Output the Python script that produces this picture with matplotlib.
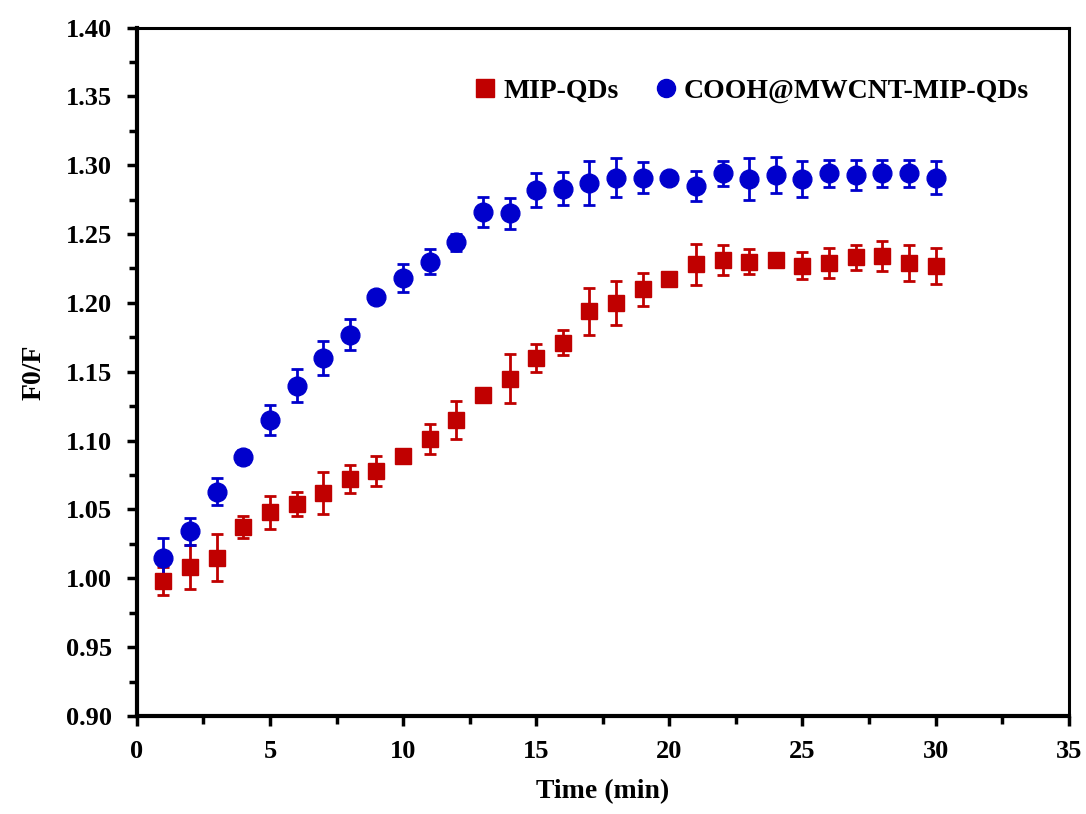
import numpy as np
import matplotlib
matplotlib.use('Agg')
import matplotlib.pyplot as plt
from matplotlib.ticker import MultipleLocator, FormatStrFormatter
from matplotlib.lines import Line2D

# time points (min)
time_min = list(range(1, 31))

# MIP-QDs
mip_f0f = [0.998, 1.008, 1.015, 1.037, 1.048, 1.054, 1.062, 1.072, 1.078, 1.089,
           1.101, 1.115, 1.133, 1.145, 1.160, 1.171, 1.194, 1.200, 1.210, 1.217,
           1.228, 1.231, 1.230, 1.231, 1.227, 1.229, 1.233, 1.234, 1.229, 1.227]
mip_err = [0.010, 0.016, 0.017, 0.008, 0.012, 0.009, 0.015, 0.010, 0.011, 0.003,
           0.011, 0.014, 0.004, 0.018, 0.010, 0.009, 0.017, 0.016, 0.012, 0.003,
           0.015, 0.011, 0.009, 0.003, 0.010, 0.011, 0.009, 0.011, 0.013, 0.013]

# COOH@MWCNT-MIP-QDs
mwcnt_f0f = [1.015, 1.034, 1.063, 1.088, 1.115, 1.140, 1.160, 1.177, 1.204, 1.218,
             1.230, 1.244, 1.266, 1.265, 1.282, 1.283, 1.287, 1.291, 1.291, 1.291,
             1.285, 1.294, 1.290, 1.293, 1.290, 1.294, 1.293, 1.294, 1.294, 1.291]
mwcnt_err = [0.014, 0.010, 0.010, 0.005, 0.011, 0.012, 0.012, 0.011, 0.003, 0.010,
             0.009, 0.006, 0.011, 0.011, 0.012, 0.012, 0.016, 0.014, 0.011, 0.003,
             0.011, 0.009, 0.015, 0.013, 0.013, 0.010, 0.011, 0.010, 0.010, 0.012]

red = '#C00000'
blue = '#0000CC'

plt.rcParams['font.family'] = ['Liberation Serif', 'DejaVu Serif']
plt.rcParams['font.weight'] = 'bold'

fig = plt.figure(figsize=(10.86, 8.14), dpi=100)
ax = fig.add_axes([0.126, 0.1204, 0.858, 0.8458])

ax.errorbar(time_min, mip_f0f, yerr=mip_err, fmt='s', color=red, ecolor=red,
            markersize=12, elinewidth=2, capsize=4, capthick=2, zorder=3)
ax.errorbar(time_min, mwcnt_f0f, yerr=mwcnt_err, fmt='o', color=blue, ecolor=blue,
            markersize=13.5, elinewidth=2, capsize=4, capthick=2, zorder=3)

ax.set_xlim(0, 35)
ax.set_ylim(0.90, 1.40)
ax.xaxis.set_major_locator(MultipleLocator(5))
ax.xaxis.set_minor_locator(MultipleLocator(2.5))
ax.yaxis.set_major_locator(MultipleLocator(0.05))
ax.yaxis.set_minor_locator(MultipleLocator(0.025))
ax.yaxis.set_major_formatter(FormatStrFormatter('%.2f'))

ax.tick_params(axis='both', which='both', direction='out', width=2.5,
               labelsize=19, top=False, right=False)
ax.tick_params(axis='both', which='major', length=7)
ax.tick_params(axis='both', which='minor', length=6)
ax.tick_params(axis='x', which='major', pad=10)
ax.tick_params(axis='y', which='major', pad=11)
for lab in ax.get_xticklabels() + ax.get_yticklabels():
    lab.set_fontweight('bold')

for side in ['left', 'bottom']:
    ax.spines[side].set_linewidth(3)
for side in ['top', 'right']:
    ax.spines[side].set_linewidth(2.2)

ax.set_xlabel('Time (min)', fontsize=20, fontweight='bold', labelpad=12)
ax.set_ylabel('F0/F', fontsize=20, fontweight='bold', labelpad=14)

handles = [Line2D([], [], marker='s', linestyle='none', color=red, markersize=13),
           Line2D([], [], marker='o', linestyle='none', color=blue, markersize=13)]
ax.legend(handles, ['MIP-QDs', 'COOH@MWCNT-MIP-QDs'], loc='upper right',
          bbox_to_anchor=(0.984, 0.963), ncol=2, frameon=False,
          prop={'size': 20, 'weight': 'bold'}, handlelength=0.8,
          handletextpad=0.25, columnspacing=1.3)

fig.savefig('out.png', dpi=100)
